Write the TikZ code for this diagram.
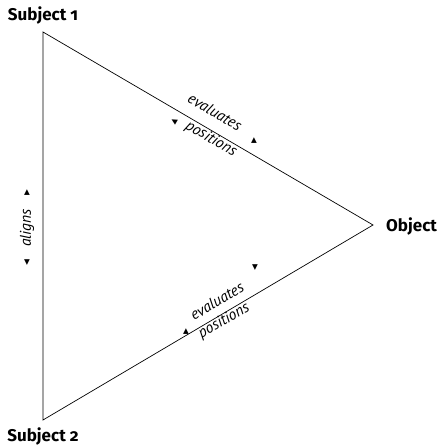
\documentclass[tikz,border=0pt]{standalone}
\usepackage{fontspec}
\usepackage{graphicx}
\setmainfont{PT Sans}
\newfontfamily\vfont{Fira Sans}[Numbers=OldStyle]
\newfontfamily\symfont{DejaVu Sans}
\newcommand{\myvsize}{\fontsize{17}{20}\selectfont}
\newcommand{\myesize}{\fontsize{15.5}{18}\selectfont}
\begin{document}
\begin{tikzpicture}[x=1pt,y=1pt,
  vlabel/.style={font=\vfont\bfseries\myvsize, inner sep=0pt},
  elabel/.style={font=\itshape\myesize, inner sep=0pt},
  tri/.style={font=\symfont\fontsize{7.5}{9}\selectfont, inner sep=0pt},
  edge/.style={draw=black, line width=0.7pt}]
\useasboundingbox (0,0) rectangle (443,446);
\coordinate (s1) at (43,414);
\coordinate (ob) at (373,221);
\coordinate (s2) at (43,26);
\node[vlabel] (l1) at (43,431) {Subject 1};
\node[vlabel, anchor=west] (lo) at (386,220) {Object};
\node[vlabel] (l2) at (43,10) {Subject 2};
\draw[edge] (s1) -- (ob) -- (s2) -- cycle;
% top edge
\node[elabel] (e1) at (215,334) {\rotatebox{-30.3}{evaluates}};
\node[tri] (t1) at (254,305) {▲};
\node[elabel] (p1) at (211,307) {\rotatebox{-30.3}{positions}};
\node[tri] (t2) at (174,325) {\rotatebox{-30.3}{◀}};
% bottom edge
\node[elabel] (e2) at (217,145) {\rotatebox{30.6}{evaluates}};
\node[tri] (t3) at (255,178) {▼};
\node[elabel] (p2) at (224,125) {\rotatebox{30.6}{positions}};
\node[tri] (t4) at (186,114) {▲};
% left edge
\node[elabel] (al) at (27,218) {\rotatebox{90}{aligns}};
\node[tri] (t5) at (27,253) {▲};
\node[tri] (t6) at (27,183) {▼};
\end{tikzpicture}
\end{document}
